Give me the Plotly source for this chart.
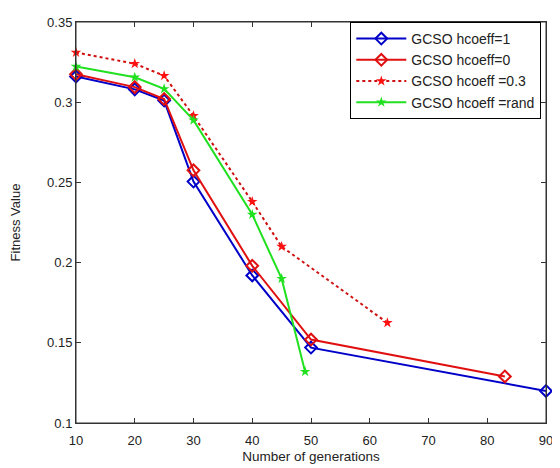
import plotly.graph_objects as go

x_h1 = [10, 20, 25, 30, 40, 50, 90]
y_h1 = [0.316, 0.308, 0.301, 0.2505, 0.192, 0.147, 0.120]

x_h0 = [10, 20, 25, 30, 40, 50, 83]
y_h0 = [0.3175, 0.3094, 0.302, 0.2575, 0.198, 0.152, 0.129]

x_h03 = [10, 20, 25, 30, 40, 45, 63]
y_h03 = [0.331, 0.324, 0.3165, 0.2915, 0.238, 0.210, 0.1625]

x_hr = [10, 20, 25, 30, 40, 45, 49]
y_hr = [0.3222, 0.3155, 0.3083, 0.2888, 0.230, 0.190, 0.132]

names = ["GCSO hcoeff=1", "GCSO hcoeff=0", "GCSO hcoeff =0.3", "GCSO hcoeff =rand"]

fig = go.Figure()
fig.add_trace(go.Scatter(x=x_h1, y=y_h1, name=names[0], mode="lines+markers", cliponaxis=False,
                         line=dict(color="#0000c8", width=2),
                         marker=dict(symbol="diamond-open", size=9, color="#0000c8", line=dict(width=2))))
fig.add_trace(go.Scatter(x=x_h0, y=y_h0, name=names[1], mode="lines+markers", cliponaxis=False,
                         line=dict(color="#e01010", width=2),
                         marker=dict(symbol="diamond-open", size=9, color="#e01010", line=dict(width=2))))
fig.add_trace(go.Scatter(x=x_h03, y=y_h03, name=names[2], mode="lines+markers", cliponaxis=False,
                         line=dict(color="#d01010", width=2, dash="dot"),
                         marker=dict(symbol="star", size=8, color="#ff1010")))
fig.add_trace(go.Scatter(x=x_hr, y=y_hr, name=names[3], mode="lines+markers", cliponaxis=False,
                         line=dict(color="#20e020", width=2),
                         marker=dict(symbol="star", size=8, color="#20e020")))

fig.add_shape(type="rect", xref="paper", yref="paper", x0=0, y0=0, x1=1, y1=1,
              line=dict(color="#333", width=1), layer="above")

fig.update_layout(
    width=552, height=460,
    margin=dict(l=60, r=7, t=10, b=38),
    paper_bgcolor="white", plot_bgcolor="white",
    font=dict(family="Liberation Sans, Arial, sans-serif", size=13, color="#222"),
    legend=dict(x=0.99, y=1.0, xanchor="right", yanchor="top",
                bgcolor="white", bordercolor="black", borderwidth=1,
                font=dict(size=14, color="#222"), tracegroupgap=0, itemwidth=50),
    xaxis=dict(range=[10, 90], tickvals=[10, 20, 30, 40, 50, 60, 70, 80, 90],
               ticks="inside", ticklen=5, tickcolor="#333", mirror="ticks",
               ticklabelstandoff=5,
               showline=True, linecolor="#333", linewidth=1, showgrid=False, zeroline=False,
               title=dict(text="Number of generations", font=dict(size=13.5), standoff=4)),
    yaxis=dict(range=[0.1, 0.35], tickvals=[0.1, 0.15, 0.2, 0.25, 0.3, 0.35],
               ticktext=["0.1", "0.15", "0.2", "0.25", "0.3", "0.35"],
               ticks="inside", ticklen=5, tickcolor="#333", mirror="ticks",
               showline=True, linecolor="#333", linewidth=1, showgrid=False, zeroline=False,
               title=dict(text="Fitness Value", font=dict(size=13), standoff=23)),
)

fig.write_html("out.html")
